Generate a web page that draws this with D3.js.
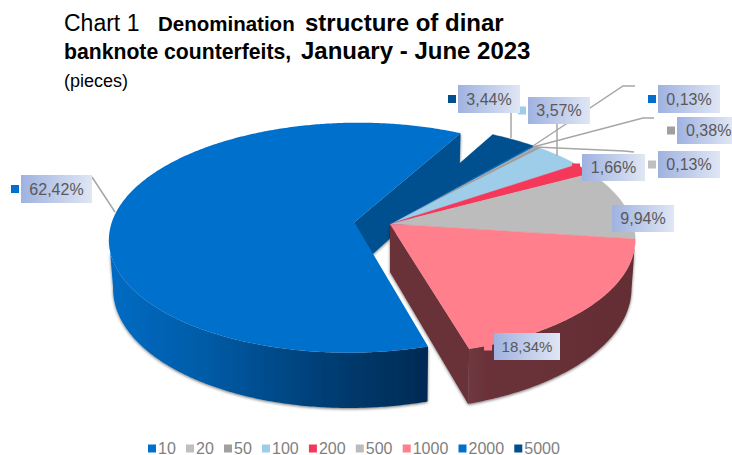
<!DOCTYPE html>
<html>
<head>
<meta charset="utf-8">
<script src="https://cdn.jsdelivr.net/npm/d3@7"></script>
<style>
    html, body { margin: 0; padding: 0; background: #fff; }
    svg { display: block; font-family: "Liberation Sans", Arial, sans-serif; }
</style>
</head>
<body>
<div id="chart"></div>
<script>
const categories = ["10", "20", "50", "100", "200", "500", "1000", "2000", "5000"];
const shares = [62.42, 0.13, 0.38, 3.57, 1.66, 9.94, 18.34, 0.13, 3.44];
// clockwise order of the slices round the pie
const sliceOrder = ["10", "5000", "2000", "20", "50", "100", "200", "500", "1000"];
const colours = ["#0070cd", "#bfbfbf", "#a0a0a0", "#9dcde8", "#f5385a", "#bcbcbc", "#ff7f8c", "#0070cc", "#00508f"];

const width = 732, height = 455;
const apex = { x: 390, y: 224 };
const firstAngle = 163.5 * Math.PI / 180;
const perspective = 0.134;
const explode = 0.148;
const wallHeight = 48;
const wallShrink = 0.985;

// box and marker placement for the data labels
const labelLayout = {
    "10": { x: 21, y: 175, w: 71, h: 28 },
    "20": { x: 658, y: 151, w: 62, h: 27 },
    "50": { x: 677, y: 117, w: 55, h: 27, textX: 686 },
    "100": { x: 528, y: 97, w: 62, h: 27 },
    "200": { x: 582, y: 154, w: 63, h: 27 },
    "500": { x: 612, y: 205, w: 62, h: 27 },
    "1000": { x: 494, y: 333, w: 66, h: 27, size: 15 },
    "2000": { x: 658, y: 85, w: 62, h: 28 },
    "5000": { x: 458, y: 85, w: 62, h: 28 }
};
const leaders = [
    [[92, 177], [115, 212]],
    [[511, 113], [511, 138]],
    [[557, 124], [557, 156]],
    [[635, 86], [623, 86], [533, 146]],
    [[654, 118], [643, 118], [533, 147]],
    [[634, 152], [624, 151], [535, 147]]
];

const colour = d3.scaleOrdinal(categories, colours);
const x = d3.scaleLinear().domain([-1, 1]).range([apex.x - 243, apex.x + 243]);
const y = d3.scaleLinear().domain([-1, 1]).range([apex.y + 113.4, apex.y - 113.4]);

// plane position (unit circle, z runs away from the viewer) to screen
function project(px, pz, low) {
    const w = 1 + perspective * pz;
    let sx = x(px / w), sy = y(pz / w);
    if (low) {
        sx = apex.x + (sx - apex.x) * wallShrink;
        sy += wallHeight / w;
    }
    return [sx, sy];
}

function sliceAngles(d) {
    const n = Math.max(2, Math.ceil((d.endAngle - d.startAngle) / 0.01));
    return d3.range(n + 1).map((i) => d.startAngle + (d.endAngle - d.startAngle) * i / n);
}

function offset(d) {
    const off = d.data.cat === "10" ? explode : 0;
    const mid = (d.startAngle + d.endAngle) / 2;
    return { x: off * Math.sin(mid), z: off * Math.cos(mid) };
}

function rimPoints(d, angles, low) {
    const o = offset(d);
    return angles.map((a) => project(o.x + Math.sin(a), o.z + Math.cos(a), low));
}

function apexPoint(d, low) {
    const o = offset(d);
    return project(o.x, o.z, low);
}

const line = d3.line();
const pie = d3.pie()
    .sort((a, b) => sliceOrder.indexOf(a.cat) - sliceOrder.indexOf(b.cat))
    .value((d) => d.share)
    .startAngle(firstAngle)
    .endAngle(firstAngle + 2 * Math.PI);
const slices = pie(categories.map((cat, i) => ({ cat, share: shares[i] })));
const big = slices.find((d) => d.data.cat === "10");
const rest = slices.filter((d) => d.data.cat !== "10");
const pink = rest.find((d) => d.data.cat === "1000");

const svg = d3.select("#chart").append("svg").attr("width", width).attr("height", height);
const defs = svg.append("defs");

function wallGradient(id, x1, x2, stops) {
    defs.append("linearGradient").attr("id", id)
        .attr("gradientUnits", "userSpaceOnUse")
        .attr("x1", x1).attr("x2", x2).attr("y1", 0).attr("y2", 0)
        .selectAll("stop").data(stops).join("stop")
        .attr("offset", (d) => d[0]).attr("stop-color", (d) => d[1]);
}
wallGradient("blueWall", 112, 430, [[0, "#006bc3"], [0.3, "#005ba6"], [0.65, "#003f77"], [1, "#002a52"]]);
wallGradient("pinkWall", 471, 630, [[0, "#6e373e"], [0.12, "#6a3138"], [1, "#642e35"]]);

const labelGrad = defs.append("linearGradient").attr("id", "labelFill");
labelGrad.append("stop").attr("offset", 0).attr("stop-color", "#9fb2e0");
labelGrad.append("stop").attr("offset", 1).attr("stop-color", "#e0e6f4");

const shadow = defs.append("filter").attr("id", "wallShadow")
    .attr("x", "-5%").attr("y", "-5%").attr("width", "110%").attr("height", "115%");
shadow.append("feDropShadow").attr("dx", 0).attr("dy", 1).attr("stdDeviation", 1.6)
    .attr("flood-color", "#000").attr("flood-opacity", 0.55);

// outer wall, only where the rim faces the viewer
function wallPath(d) {
    const front = sliceAngles(d).filter((a) => Math.cos(a) < -perspective);
    return line(rimPoints(d, front, false).concat(rimPoints(d, front, true).reverse())) + "Z";
}
// cut face hanging under the edge from the apex to the end of the rim
function cutPath(d) {
    const a = [d.endAngle];
    return line([apexPoint(d, false), rimPoints(d, a, false)[0], rimPoints(d, a, true)[0], apexPoint(d, true)]) + "Z";
}
function topPath(d) {
    return line([apexPoint(d, false)].concat(rimPoints(d, sliceAngles(d), false))) + "Z";
}

// exploded slice first, the rest of the pie sits over it
const blueWalls = svg.append("g").attr("filter", "url(#wallShadow)");
blueWalls.append("path").attr("d", cutPath(big)).attr("fill", "#00508f");
blueWalls.append("path").attr("d", wallPath(big)).attr("fill", "url(#blueWall)");
svg.append("path").attr("d", topPath(big)).attr("fill", colour("10"));

const pinkWalls = svg.append("g").attr("filter", "url(#wallShadow)");
pinkWalls.append("path").attr("d", cutPath(pink)).attr("fill", "#693037");
pinkWalls.append("path").attr("d", wallPath(pink)).attr("fill", "url(#pinkWall)");

svg.append("g").selectAll("path").data(rest).join("path")
    .attr("d", topPath)
    .attr("fill", (d) => colour(d.data.cat))
    .attr("stroke", (d) => colour(d.data.cat))
    .attr("stroke-width", 0.4);

// leader lines
svg.append("g").selectAll("path").data(leaders).join("path")
    .attr("d", line)
    .attr("fill", "none")
    .attr("stroke", "#a6a6a6")
    .attr("stroke-width", 1.5);

// data labels
const fmt = d3.format(".2f");
const labels = svg.append("g").selectAll("g").data(categories).join("g")
    .attr("transform", (d) => `translate(${labelLayout[d].x},${labelLayout[d].y})`);
labels.append("rect")
    .attr("width", (d) => labelLayout[d].w)
    .attr("height", (d) => labelLayout[d].h)
    .attr("fill", "url(#labelFill)");
labels.append("rect")
    .attr("x", -10).attr("y", (d) => labelLayout[d].h / 2 - 4)
    .attr("width", 8).attr("height", 8)
    .attr("fill", (d) => colour(d));
labels.append("text")
    .attr("x", (d) => labelLayout[d].textX ? labelLayout[d].textX - labelLayout[d].x : labelLayout[d].w / 2)
    .attr("y", (d) => labelLayout[d].h / 2 + 5.5)
    .attr("text-anchor", (d) => labelLayout[d].textX ? "start" : "middle")
    .attr("font-size", (d) => labelLayout[d].size || 16)
    .attr("fill", "#595959")
    .text((d) => fmt(shares[categories.indexOf(d)]).replace(".", ",") + "%");

// title
const title = svg.append("g").attr("fill", "#000");
const line1 = title.append("text").attr("y", 31);
line1.append("tspan").attr("x", 64).attr("font-size", 23).text("Chart 1");
line1.append("tspan").attr("x", 158).attr("font-size", 20.5).attr("font-weight", "bold").text("Denomination");
line1.append("tspan").attr("x", 305).attr("font-size", 24).attr("font-weight", "bold").text("structure of dinar");
const line2 = title.append("text").attr("y", 59).attr("font-weight", "bold");
line2.append("tspan").attr("x", 64).attr("font-size", 21.2).text("banknote counterfeits,");
line2.append("tspan").attr("x", 301).attr("font-size", 24).text("January - June 2023");
title.append("text").attr("x", 64).attr("y", 87).attr("font-size", 18).text("(pieces)");

// legend
const legend = svg.append("g");
let legendX = 148;
categories.forEach((cat) => {
    legend.append("rect").attr("x", legendX).attr("y", 444.5).attr("width", 8).attr("height", 8).attr("fill", colour(cat));
    const t = legend.append("text").attr("x", legendX + 10).attr("y", 454)
        .attr("font-size", 16).attr("fill", "#808080").text(cat);
    legendX += 10 + t.node().getComputedTextLength() + 10.2;
});
</script>
</body>
</html>
